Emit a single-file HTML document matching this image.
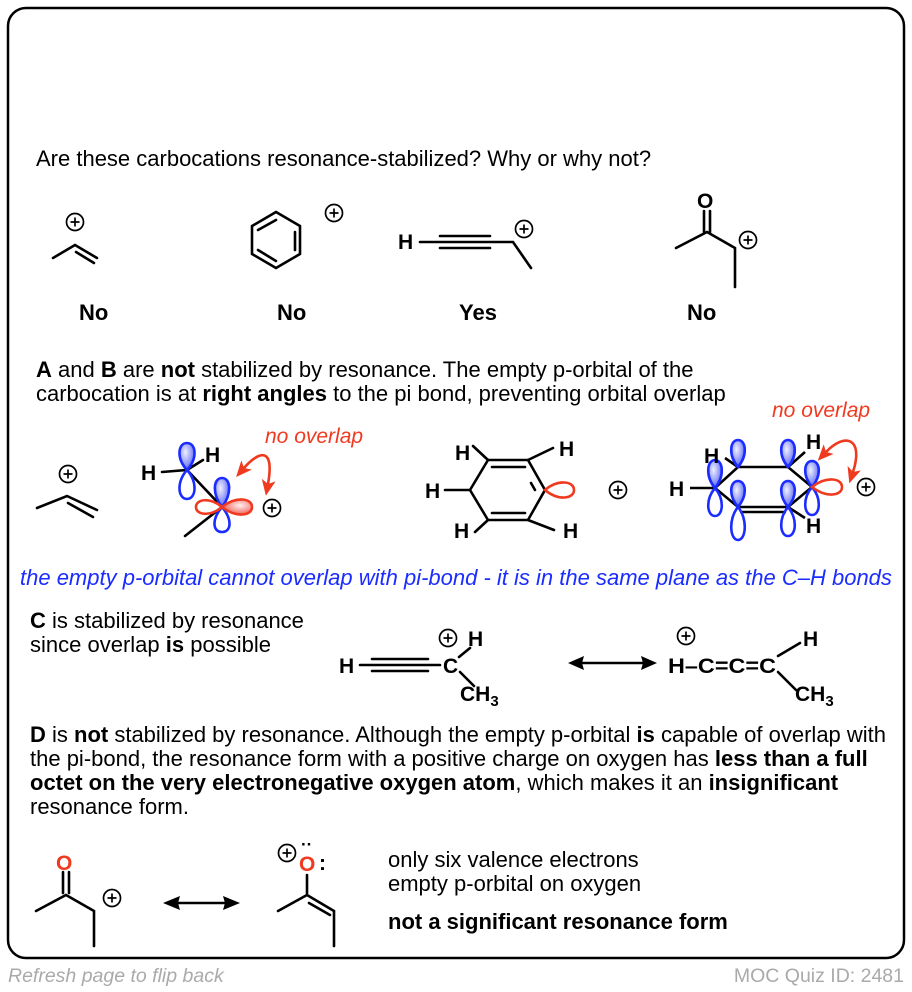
<!DOCTYPE html>
<html><head><meta charset="utf-8"><style>
body{margin:0;background:#fff;width:912px;height:992px;overflow:hidden}
svg{display:block}
text{font-family:"Liberation Sans",Arial,sans-serif}
</style></head><body>
<svg width="912" height="992" viewBox="0 0 912 992" xmlns="http://www.w3.org/2000/svg">
<defs>
<radialGradient id="bg" cx="0.4" cy="0.35" r="0.7"><stop offset="0" stop-color="#eef0ff"/><stop offset="1" stop-color="#5560f0"/></radialGradient>
<radialGradient id="rg" cx="0.6" cy="0.4" r="0.7"><stop offset="0" stop-color="#fff0f0"/><stop offset="1" stop-color="#f04a40"/></radialGradient>
<marker id="ah" markerWidth="16" markerHeight="14" refX="4" refY="7" orient="auto-start-reverse" markerUnits="userSpaceOnUse"><path d="M0,0 L16,7 L0,14 L4,7Z" fill="#f03a20"/></marker>
</defs>
<rect x="8" y="8" width="896" height="950" rx="18" fill="#fff" stroke="#000" stroke-width="2.5"/>
<g font-size="22" fill="#000">
<text x="36" y="166">Are these carbocations resonance-stabilized? Why or why not?</text>
<text x="36" y="377"><tspan font-weight="bold">A</tspan> and <tspan font-weight="bold">B</tspan> are <tspan font-weight="bold">not</tspan> stabilized by resonance. The empty p-orbital of the</text>
<text x="36" y="401">carbocation is at <tspan font-weight="bold">right angles</tspan> to the pi bond, preventing orbital overlap</text>
<text x="20" y="585" fill="#1a2cff" font-style="italic">the empty p-orbital cannot overlap with pi-bond - it is in the same plane as the C–H bonds</text>
<text x="30" y="628"><tspan font-weight="bold">C</tspan> is stabilized by resonance</text>
<text x="30" y="652">since overlap <tspan font-weight="bold">is</tspan> possible</text>
<text x="30" y="742"><tspan font-weight="bold">D</tspan> is <tspan font-weight="bold">not</tspan> stabilized by resonance. Although the empty p-orbital <tspan font-weight="bold">is</tspan> capable of overlap with</text>
<text x="30" y="766">the pi-bond, the resonance form with a positive charge on oxygen has <tspan font-weight="bold">less than a full</tspan></text>
<text x="30" y="790"><tspan font-weight="bold">octet on the very electronegative oxygen atom</tspan>, which makes it an <tspan font-weight="bold">insignificant</tspan></text>
<text x="30" y="814">resonance form.</text>
<text x="388" y="867">only six valence electrons</text>
<text x="388" y="891">empty p-orbital on oxygen</text>
<text x="388" y="929" font-weight="bold">not a significant resonance form</text>
<g font-weight="bold"><text x="79" y="320">No</text><text x="277" y="320">No</text><text x="459" y="320">Yes</text><text x="687" y="320">No</text></g>
</g>
<text x="8" y="982" font-size="19.5" fill="#aaa" font-style="italic" font-family="Liberation Sans">Refresh page to flip back</text>
<text x="904" y="982" font-size="19.5" fill="#aaa" text-anchor="end" font-family="Liberation Sans">MOC Quiz ID: 2481</text>

<g stroke="#000" stroke-width="2.6" fill="none" stroke-linecap="round">
<path d="M53 258 L75 245 L97 258"/><path d="M76 252 L94 263"/>
<path d="M276 212 L300 226 L300 254 L276 268 L252 254 L252 226 Z"/>
<path d="M258 230 L276 220 M295 232 L295 250 M258 250 L276 261"/>
<path d="M420 242 L490 242 L513 242 L531 268"/><path d="M440 236 L490 236 M440 248 L490 248"/>
<path d="M704 211 L704 232 M710 211 L710 232" /><path d="M676 248 L707 232 L735 248 L735 287"/>
<path d="M37 508 L67 496 L97 510"/><path d="M68 503 L93 517"/>
<path d="M162 472 L187 470 L222 507 L185 536 M187 470 L203 460"/>
<path d="M470 490 L488 460 L528 460 L545 490 L528 520 L488 520 Z"/>
<path d="M492 467 L525 467 M492 513 L525 513 M535 490 L531 483"/>
<path d="M445 490 L470 490 M488 460 L473 446 M528 460 L553 448 M528 520 L554 530 M488 520 L475 532"/>
<path d="M360 665 L440 665 M372 659 L428 659 M372 671 L428 671"/><path d="M460 672 L474 686"/><path d="M459 657 L470 648"/>
<path d="M778 656 L800 643 M778 672 L796 690"/>
<path d="M63 872 L63 893 M69 872 L69 893"/><path d="M36 911 L66 895 L94 911 L94 946"/>
<path d="M307 875 L307 895 M278 911 L307 895 L334 911 L334 946 M309 903 L330 915"/>
</g>
<g stroke="#000" stroke-width="2.6" fill="none">
<path d="M715 488 L738 467 L788 467 L812 487 L788 507 L738 507 Z M740 512 L786 512 M690 488 L715 488 M738 467 L725 458 M788 467 L805 452 M788 507 L805 518"/>
</g>
<g stroke="#1a2cff" stroke-width="2.6">
<path d="M187 470 C176 458 178 443 187 443 C196 443 198 458 187 470Z" fill="url(#bg)"/>
<path d="M187 470 C176 482 178 499 187 499 C196 499 198 482 187 470Z" fill="none"/>
<path d="M222 507 C212 494 213 478 222 478 C231 478 232 494 222 507Z" fill="url(#bg)"/>
<path d="M222 507 C211 520 213 532 222 532 C231 532 233 520 222 507Z" fill="none"/>
<g fill="url(#bg)">
<path d="M715 488 C705 476 707 460 715 460 C723 460 725 476 715 488Z"/>
<path d="M738 467 C728 455 730 440 738 440 C746 440 748 455 738 467Z"/>
<path d="M788 467 C778 455 780 440 788 440 C796 440 798 455 788 467Z"/>
<path d="M738 507 C728 495 730 481 738 481 C746 481 748 495 738 507Z"/>
<path d="M788 507 C778 495 780 481 788 481 C796 481 798 495 788 507Z"/>
<path d="M812 487 C802 475 804 461 812 461 C820 461 822 475 812 487Z"/>
</g>
<g fill="none">
<path d="M715 488 C705 500 707 516 715 516 C723 516 725 500 715 488Z"/>
<path d="M738 507 C728 519 730 540 738 540 C746 540 748 519 738 507Z"/>
<path d="M788 507 C778 519 780 536 788 536 C796 536 798 519 788 507Z"/>
<path d="M812 487 C802 499 804 515 812 515 C820 515 822 499 812 487Z"/>
</g>
</g>
<g stroke="#f03a20" stroke-width="2.6">
<path d="M222 507 C210 497 196 499 196 507 C196 515 210 517 222 507Z" fill="none"/>
<path d="M222 507 C236 496 252 498 252 507 C252 516 236 518 222 507Z" fill="url(#rg)"/>
<path d="M545 490 C558 479 574 481 574 490 C574 499 558 501 545 490Z" fill="none"/>
<path d="M812 487 C826 476 842 478 842 487 C842 496 826 498 812 487Z" fill="none"/>
<path d="M244 468 C258 452 275 445 268 484" fill="none" marker-start="url(#ah)" marker-end="url(#ah)"/>
<path d="M826 452 C845 432 864 438 853 472" fill="none" marker-start="url(#ah)" marker-end="url(#ah)"/>
</g>
<g font-size="21" font-style="italic" fill="#f03a20"><text x="265" y="443">no overlap</text><text x="772" y="417">no overlap</text></g>
<g stroke="#000" stroke-width="1.7" fill="none">
<g id="p"><circle cx="75" cy="222" r="8.5"/><path d="M70.5 222h9M75 217.5v9"/></g>
<use href="#p" x="259" y="-9"/><use href="#p" x="449" y="7"/><use href="#p" x="673" y="18"/>
<use href="#p" x="-7" y="252"/><use href="#p" x="197" y="286"/><use href="#p" x="543" y="268"/><use href="#p" x="791" y="265"/>
<use href="#p" x="373" y="416"/><use href="#p" x="611" y="414"/><use href="#p" x="37" y="676"/><use href="#p" x="212" y="631"/>
</g>
<g font-size="21" font-weight="bold" fill="#000">
<text x="398" y="249">H</text>
<text x="697" y="208">O</text>
<text x="141" y="480">H</text><text x="205" y="462">H</text>
<text x="455" y="460">H</text><text x="559" y="456">H</text><text x="425" y="498">H</text><text x="454" y="538">H</text><text x="563" y="538">H</text>
<text x="669" y="496">H</text><text x="704" y="463">H</text><text x="806" y="449">H</text><text x="806" y="533">H</text>
<text x="339" y="673">H</text><text x="443" y="673">C</text><text x="468" y="646">H</text><text x="460" y="701">CH<tspan font-size="15" dy="5">3</tspan></text>
<text x="668" y="673" textLength="108" lengthAdjust="spacingAndGlyphs">H–C=C=C</text><text x="803" y="646">H</text><text x="795" y="701">CH<tspan font-size="15" dy="5">3</tspan></text>
<text x="56" y="870" fill="#f03a20">O</text><text x="299" y="871" fill="#f03a20">O</text>
<text x="319" y="870">:</text><text x="301" y="850" font-size="17">··</text>
</g>
<g stroke="#000" stroke-width="2.4"><path d="M580 663 L645 663"/><path d="M175 903 L228 903"/></g>
<g fill="#000"><path d="M568 663 L584 656 L582 663 L584 670Z"/><path d="M657 663 L641 656 L643 663 L641 670Z"/>
<path d="M163 903 L180 896 L178 903 L180 910Z"/><path d="M240 903 L223 896 L225 903 L223 910Z"/></g>
</svg>
</body></html>
